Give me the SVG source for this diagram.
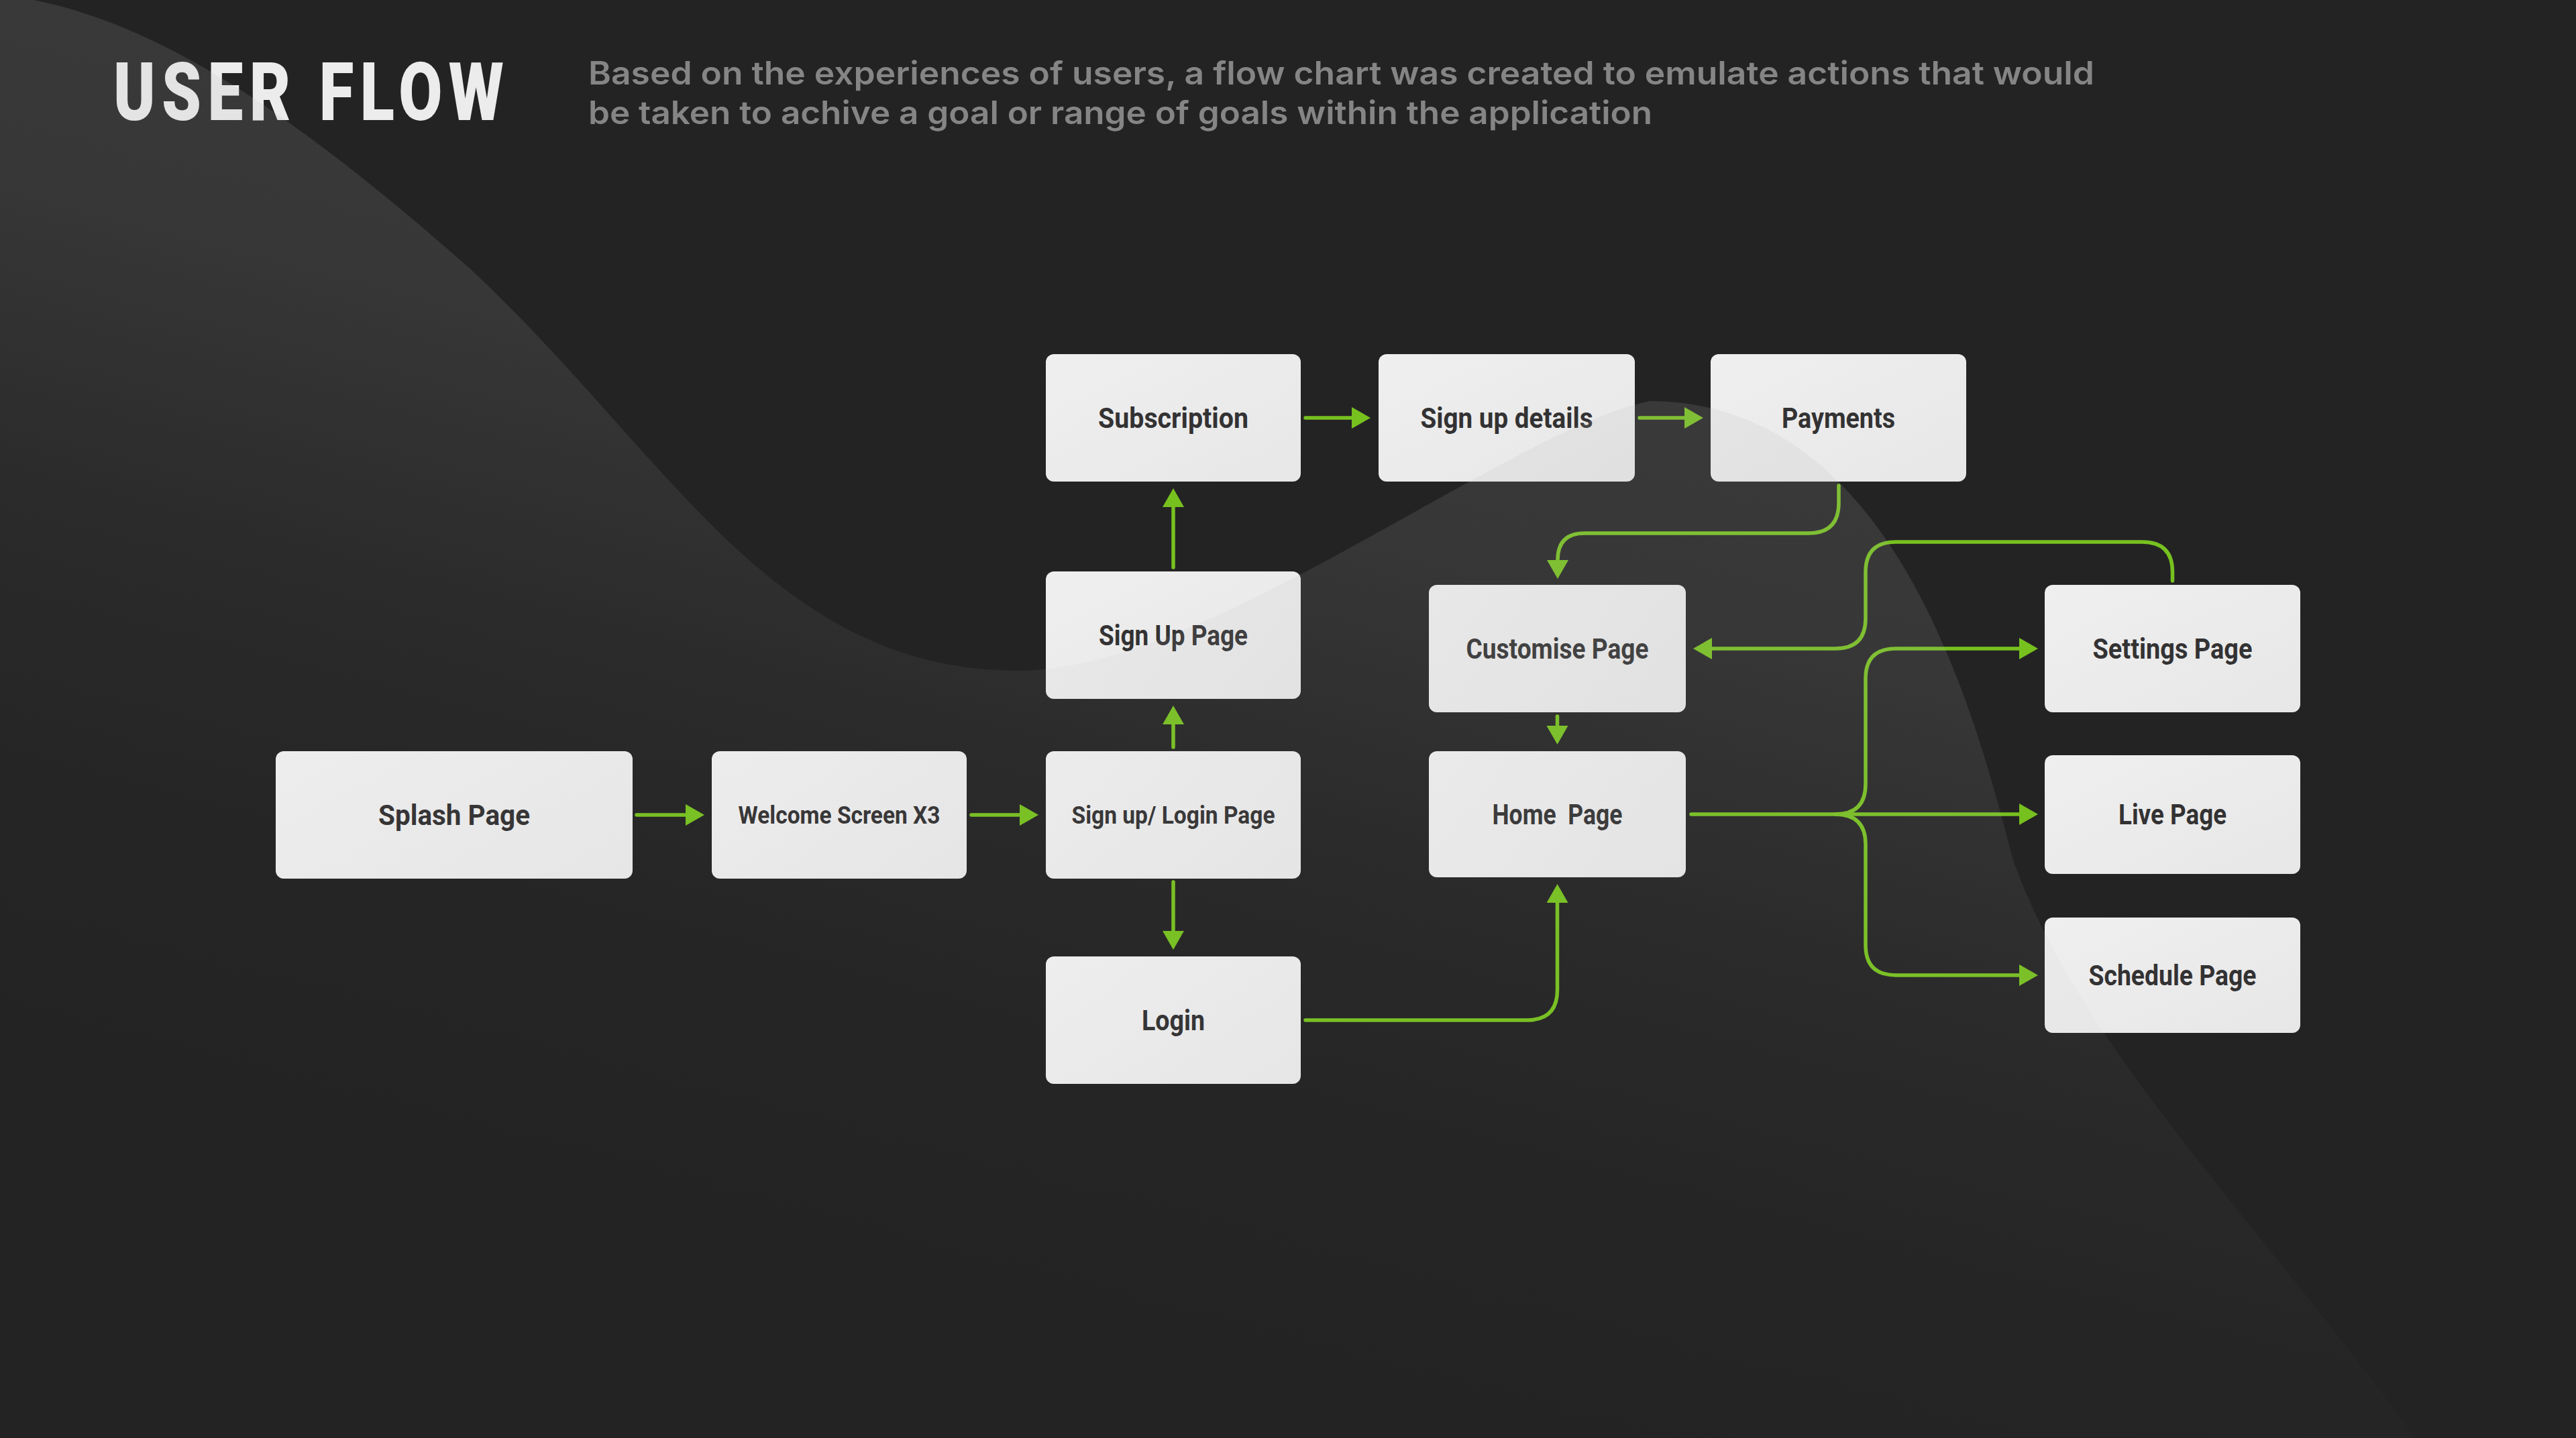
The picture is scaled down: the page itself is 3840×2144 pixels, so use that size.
<svg xmlns="http://www.w3.org/2000/svg" width="3840" height="2144" viewBox="0 0 3840 2144">
<defs>
<linearGradient id="wave" gradientUnits="userSpaceOnUse" x1="1800" y1="0" x2="1300" y2="1900">
<stop offset="0" stop-color="#b4b4b4" stop-opacity="0.17"/>
<stop offset="0.35" stop-color="#b4b4b4" stop-opacity="0.14"/>
<stop offset="0.6" stop-color="#b4b4b4" stop-opacity="0.05"/>
<stop offset="0.8" stop-color="#b4b4b4" stop-opacity="0.015"/>
<stop offset="1" stop-color="#b4b4b4" stop-opacity="0"/>
</linearGradient>
<linearGradient id="box" x1="0" y1="0" x2="1" y2="1">
<stop offset="0" stop-color="#efefef"/>
<stop offset="1" stop-color="#e7e7e7"/>
</linearGradient>
<marker id="ah" markerUnits="userSpaceOnUse" viewBox="0 -16 28 32" markerWidth="28" markerHeight="32" refX="0" refY="0" orient="auto">
<path d="M0,-16 L28,0 L0,16 Z" fill="#77c11f"/>
</marker>
</defs>
<style>
.node rect{fill:url(#box)}
.lbl{font-family:Roboto,'Liberation Sans',sans-serif;font-weight:700;font-size:42px;fill:#333233;text-anchor:middle}
.sm{font-size:37px}
.conn path{fill:none;stroke:#77c11f;stroke-width:5.5;stroke-linecap:round;stroke-linejoin:round;marker-end:url(#ah)}
.title{font-family:Roboto,'Liberation Sans',sans-serif;font-weight:900;font-size:121px;fill:#ececec}
.sub{font-family:Inter,'Liberation Sans',sans-serif;font-weight:600;font-size:48px;fill:#858585}
</style>
<rect x="0" y="0" width="3840" height="2144" fill="#242324"/>

<g id="header">
<text class="title" transform="translate(169,179) scale(0.78,1)" x="0" y="0" textLength="746" lengthAdjust="spacing">USER FLOW</text>
<text class="sub" x="877" y="126" textLength="2245" lengthAdjust="spacingAndGlyphs">Based on the experiences of users, a flow chart was created to emulate actions that would</text>
<text class="sub" x="877" y="185" textLength="1586" lengthAdjust="spacingAndGlyphs">be taken to achive a goal or range of goals within the application</text>
</g>

<g id="splash-page" class="node"><rect x="411" y="1120" width="532" height="190" rx="12"/><text class="lbl" x="677" y="1230" textLength="226" lengthAdjust="spacingAndGlyphs">Splash Page</text></g>
<g id="welcome-screen" class="node"><rect x="1061" y="1120" width="380" height="190" rx="12"/><text class="lbl sm" x="1251" y="1228" textLength="301" lengthAdjust="spacingAndGlyphs">Welcome Screen X3</text></g>
<g id="signup-login-page" class="node"><rect x="1559" y="1120" width="380" height="190" rx="12"/><text class="lbl sm" x="1749" y="1228" textLength="303" lengthAdjust="spacingAndGlyphs">Sign up/ Login Page</text></g>
<g id="login" class="node"><rect x="1559" y="1426" width="380" height="190" rx="12"/><text class="lbl" x="1749" y="1536" textLength="94" lengthAdjust="spacingAndGlyphs">Login</text></g>
<g id="sign-up-page" class="node"><rect x="1559" y="852" width="380" height="190" rx="12"/><text class="lbl" x="1749" y="962" textLength="222" lengthAdjust="spacingAndGlyphs">Sign Up Page</text></g>
<g id="subscription" class="node"><rect x="1559" y="528" width="380" height="190" rx="12"/><text class="lbl" x="1749" y="638" textLength="224" lengthAdjust="spacingAndGlyphs">Subscription</text></g>
<g id="sign-up-details" class="node"><rect x="2055" y="528" width="382" height="190" rx="12"/><text class="lbl" x="2246" y="638" textLength="257" lengthAdjust="spacingAndGlyphs">Sign up details</text></g>
<g id="payments" class="node"><rect x="2550" y="528" width="381" height="190" rx="12"/><text class="lbl" x="2740.5" y="638" textLength="169" lengthAdjust="spacingAndGlyphs">Payments</text></g>
<g id="customise-page" class="node"><rect x="2130" y="872" width="383" height="190" rx="12"/><text class="lbl" x="2321.5" y="982" textLength="272" lengthAdjust="spacingAndGlyphs">Customise Page</text></g>
<g id="home-page" class="node"><rect x="2130" y="1120" width="383" height="188" rx="12"/><text class="lbl" x="2321.5" y="1229" textLength="194" lengthAdjust="spacingAndGlyphs" xml:space="preserve">Home  Page</text></g>
<g id="settings-page" class="node"><rect x="3048" y="872" width="381" height="190" rx="12"/><text class="lbl" x="3238.5" y="982" textLength="238" lengthAdjust="spacingAndGlyphs">Settings Page</text></g>
<g id="live-page" class="node"><rect x="3048" y="1126" width="381" height="177" rx="12"/><text class="lbl" x="3238.5" y="1229" textLength="161" lengthAdjust="spacingAndGlyphs">Live Page</text></g>
<g id="schedule-page" class="node"><rect x="3048" y="1368" width="381" height="172" rx="12"/><text class="lbl" x="3238.5" y="1469" textLength="250" lengthAdjust="spacingAndGlyphs">Schedule Page</text></g>

<g id="connectors" class="conn">
<path d="M949,1215 H1022"/>
<path d="M1448,1215 H1520"/>
<path d="M1749,1114 V1080"/>
<path d="M1749,846 V756"/>
<path d="M1749,1315 V1388"/>
<path d="M1946,623 H2015"/>
<path d="M2444,623 H2511"/>
<path d="M2741,724 V750 Q2741,795 2696,795 H2362 Q2322,795 2322,835"/>
<path d="M2321.5,1068 V1082"/>
<path d="M1946,1521 H2276 Q2321.5,1521 2321.5,1476 V1346"/>
<path d="M3238.5,866 V853 Q3238.5,808 3193.5,808 H2826 Q2781,808 2781,853 V922 Q2781,967 2736,967 H2552"/>
<path d="M2521,1214 H3010"/>
<path d="M2736,1214 Q2781,1214 2781,1169 V1012 Q2781,967 2826,967 H3010"/>
<path d="M2736,1214 Q2781,1214 2781,1259 V1409 Q2781,1454 2826,1454 H3010"/>
</g>

<path id="wave-overlay" d="M0,0 H50 C250,40 450,180 700,400 C1000,680 1150,1000 1520,1000 C1800,1000 2250,640 2460,598 C2800,600 2930,1000 3000,1280 C3100,1560 3350,1800 3600,2144 L0,2144 Z" fill="url(#wave)"/>
</svg>
